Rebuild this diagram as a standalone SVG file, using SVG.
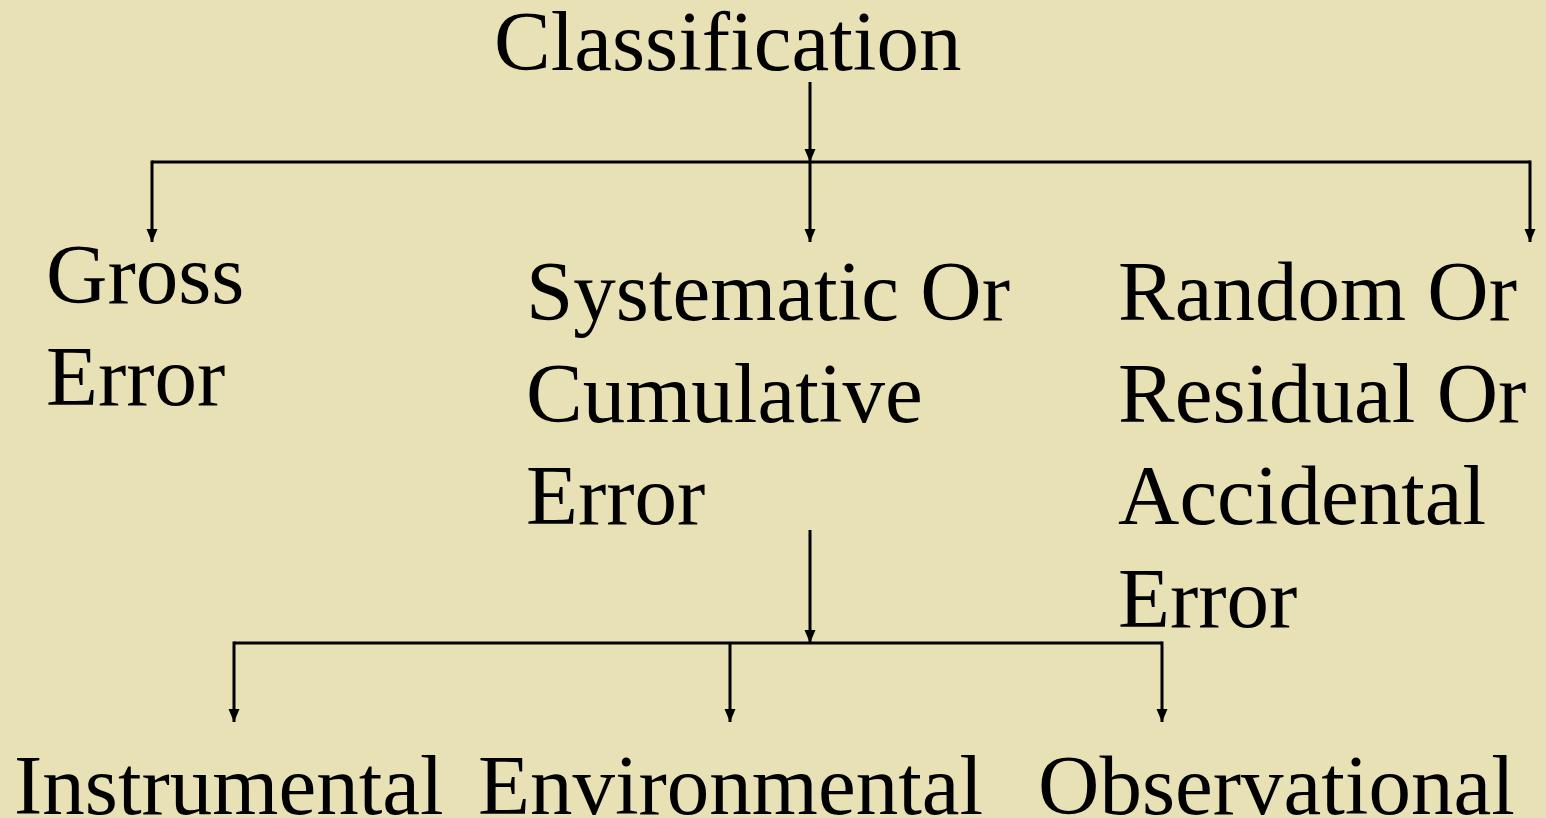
<svg xmlns="http://www.w3.org/2000/svg" width="1546" height="818" viewBox="0 0 1546 818">
<defs>
<style>
.t{font-family:"Liberation Serif","Times New Roman",serif;font-size:85px;fill:#000}
.c{stroke:#000;stroke-width:3;fill:none}
</style>
<marker id="ah" markerUnits="userSpaceOnUse" markerWidth="14" markerHeight="14" viewBox="0 0 14 14" refX="13" refY="7" orient="auto">
<path d="M0,1.5 L13,7 L0,12.5 Z" fill="#000"/>
</marker>
</defs>
<rect width="1546" height="818" fill="#E8E1B5"/>
<g id="connectors">
<line class="c" x1="810" y1="82" x2="810" y2="162" marker-end="url(#ah)"/>
<polyline class="c" points="152,162 1530,162"/>
<line class="c" x1="152" y1="160.5" x2="152" y2="242" marker-end="url(#ah)"/>
<line class="c" x1="810" y1="162" x2="810" y2="242" marker-end="url(#ah)"/>
<line class="c" x1="1530" y1="160.5" x2="1530" y2="242" marker-end="url(#ah)"/>
<line class="c" x1="810" y1="530" x2="810" y2="643" marker-end="url(#ah)"/>
<polyline class="c" points="234,643 1162,643"/>
<line class="c" x1="234" y1="641.5" x2="234" y2="722" marker-end="url(#ah)"/>
<line class="c" x1="730" y1="643" x2="730" y2="722" marker-end="url(#ah)"/>
<line class="c" x1="1162" y1="641.5" x2="1162" y2="722" marker-end="url(#ah)"/>
</g>
<g id="classification"><text class="t" x="494" y="70">Classification</text></g>
<g id="gross"><text class="t"><tspan x="46" y="303">Gross</tspan><tspan x="46" y="405">Error</tspan></text></g>
<g id="systematic"><text class="t"><tspan x="526" y="320">Systematic Or</tspan><tspan x="526" y="422">Cumulative</tspan><tspan x="526" y="524">Error</tspan></text></g>
<g id="random"><text class="t"><tspan x="1118" y="320">Random Or</tspan><tspan x="1118" y="422">Residual Or</tspan><tspan x="1118" y="524">Accidental</tspan><tspan x="1118" y="627">Error</tspan></text></g>
<g id="instrumental"><text class="t" x="14" y="814">Instrumental</text></g>
<g id="environmental"><text class="t" x="478" y="814">Environmental</text></g>
<g id="observational"><text class="t" x="1038" y="814">Observational</text></g>
</svg>
